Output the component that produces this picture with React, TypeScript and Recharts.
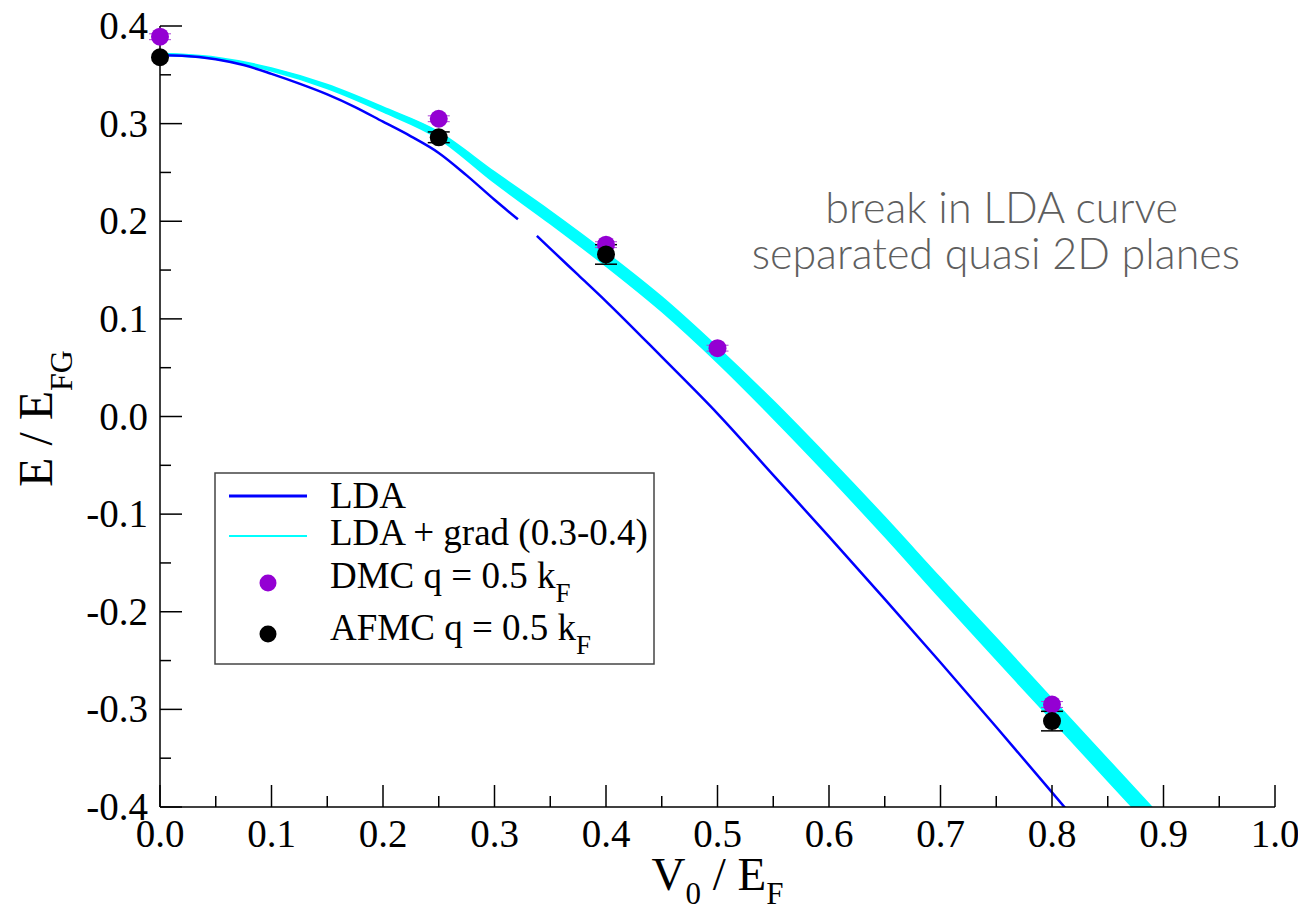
import React from 'react';
import {
  ComposedChart,
  Line,
  Area,
  Scatter,
  ErrorBar,
  XAxis,
  YAxis,
  Label
} from 'recharts';

// LDA curve (the gap near 0.33 is the break between separated quasi 2D planes)
const ldaV0 = [0, 0.02, 0.05, 0.075, 0.1, 0.125, 0.15, 0.175, 0.2, 0.225, 0.25, 0.275, 0.3, 0.321, 0.33, 0.338, 0.35, 0.375, 0.4, 0.45, 0.5, 0.55, 0.6, 0.65, 0.7, 0.75, 0.8, 0.82];
const ldaE = [0.37, 0.3695, 0.366, 0.36, 0.351, 0.341, 0.33, 0.317, 0.302, 0.287, 0.27, 0.247, 0.222, 0.202, null, 0.185, 0.172, 0.145, 0.118, 0.061, 0.003, -0.06, -0.123, -0.187, -0.252, -0.318, -0.385, -0.412];

// LDA + gradient band, gradient coefficient 0.3 .. 0.4
const gradV0 = [0, 0.05, 0.1, 0.15, 0.2, 0.25, 0.3, 0.35, 0.4, 0.45, 0.5, 0.55, 0.6, 0.65, 0.7, 0.75, 0.8, 0.85, 0.9];
const gradHigh = [0.372, 0.368, 0.357, 0.34, 0.317, 0.2915, 0.2505, 0.2105, 0.168, 0.1225, 0.071, 0.016, -0.0425, -0.103, -0.1655, -0.227, -0.289, -0.351, -0.413];
const gradLow = [0.37, 0.366, 0.354, 0.336, 0.312, 0.2845, 0.2395, 0.1975, 0.154, 0.1075, 0.055, -0.002, -0.0615, -0.123, -0.1865, -0.249, -0.311, -0.373, -0.435];

const dmcV0 = [0, 0.25, 0.4, 0.5, 0.8];
const dmcE = [0.389, 0.305, 0.176, 0.07, -0.295];
const dmcErr = [0.003, 0.003, 0.003, 0.003, 0.003];

const afmcV0 = [0, 0.25, 0.4, 0.8];
const afmcE = [0.368, 0.286, 0.166, -0.312];
const afmcErr = [null, 0.0055, 0.01, 0.01];

const xTicks = [0, 0.05, 0.1, 0.15, 0.2, 0.25, 0.3, 0.35, 0.4, 0.45, 0.5, 0.55, 0.6, 0.65, 0.7, 0.75, 0.8, 0.85, 0.9, 0.95, 1.0];
const yTicks = [-0.4, -0.35, -0.3, -0.25, -0.2, -0.15, -0.1, -0.05, 0, 0.05, 0.1, 0.15, 0.2, 0.25, 0.3, 0.35, 0.4];

const ldaData = ldaV0.map((x, i) => ({ x, lda: ldaE[i] }));
const gradData = gradV0.map((x, i) => ({ x, lo: gradLow[i], hi: gradHigh[i] }));
const dmcData = dmcV0.map((x, i) => ({ x, y: dmcE[i], err: dmcErr[i] }));
const afmcData = afmcV0.map((x, i) => ({ x, y: afmcE[i], err: afmcErr[i] }));

const SERIF = '"Liberation Serif", "Times New Roman", serif';
const MAJOR = 22;
const MINOR = 11;

const isMajor = (v: number) => Math.round(v * 20) % 2 === 0;

const BottomTick = (props: any) => {
  const { x, y, payload } = props;
  const major = isMajor(payload.value);
  return (
    <g>
      <line x1={x} x2={x} y1={y} y2={y - (major ? MAJOR : MINOR)} stroke="#000" strokeWidth={1.5} />
      {major && (
        <text x={x} y={y + 40} textAnchor="middle" fontFamily={SERIF} fontSize={39} fill="#000">
          {payload.value.toFixed(1)}
        </text>
      )}
    </g>
  );
};

const TopTick = (props: any) => {
  const { x, y, payload } = props;
  const len = isMajor(payload.value) ? MAJOR : MINOR;
  return <line x1={x} x2={x} y1={y} y2={y + len} stroke="#000" strokeWidth={1.5} />;
};

const LeftTick = (props: any) => {
  const { x, y, payload } = props;
  const major = isMajor(payload.value);
  return (
    <g>
      <line x1={x} x2={x + (major ? MAJOR : MINOR)} y1={y} y2={y} stroke="#000" strokeWidth={1.5} />
      {major && (
        <text x={x - 12} y={y + 13} textAnchor="end" fontFamily={SERIF} fontSize={39} fill="#000">
          {payload.value.toFixed(1)}
        </text>
      )}
    </g>
  );
};

const RightTick = (props: any) => {
  const { x, y, payload } = props;
  const len = isMajor(payload.value) ? MAJOR : MINOR;
  return <line x1={x} x2={x - len} y1={y} y2={y} stroke="#000" strokeWidth={1.5} />;
};

const XTitle = (props: any) => {
  const { x, y, width } = props.viewBox;
  return (
    <text x={x + width / 2} y={y + 83} textAnchor="middle" fontFamily={SERIF} fontSize={47} fill="#000">
      V<tspan fontSize={31} dy={14}>0</tspan>
      <tspan dy={-14}> / E</tspan>
      <tspan fontSize={31} dy={14}>F</tspan>
    </text>
  );
};

const YTitle = (props: any) => {
  const { y, height } = props.viewBox;
  const cx = 44;
  const cy = y + height / 2 + 2;
  return (
    <text
      x={cx}
      y={cy}
      transform={`rotate(-90 ${cx} ${cy})`}
      textAnchor="middle"
      fontFamily={SERIF}
      fontSize={48}
      fill="#000"
    >
      E / E<tspan fontSize={32} dy={20}>FG</tspan>
    </text>
  );
};

const Dot = (color: string) => (p: any) =>
  p.cx == null ? null : <circle cx={p.cx} cy={p.cy} r={9} fill={color} />;

export default function App() {
  return (
    <div style={{ position: 'relative', width: 1290, height: 899 }}>
      <ComposedChart width={1290} height={899} margin={{ top: 18, right: 23, bottom: 0, left: 0 }}>
        <XAxis
          xAxisId="b"
          dataKey="x"
          type="number"
          domain={[0, 1]}
          ticks={xTicks}
          interval={0}
          height={100}
          tickSize={0}
          tickMargin={0}
          tickLine={false}
          axisLine={{ stroke: '#000', strokeWidth: 1.5 }}
          tick={BottomTick}
        >
          <Label content={XTitle} />
        </XAxis>
        <XAxis
          xAxisId="t"
          orientation="top"
          type="number"
          domain={[0, 1]}
          ticks={xTicks}
          interval={0}
          height={0}
          tickSize={0}
          tickMargin={0}
          tickLine={false}
          axisLine={{ stroke: '#000', strokeWidth: 1.5 }}
          tick={TopTick}
        />
        <YAxis
          yAxisId="l"
          type="number"
          domain={[-0.4, 0.4]}
          allowDataOverflow
          ticks={yTicks}
          interval={0}
          width={152}
          tickSize={0}
          tickMargin={0}
          tickLine={false}
          axisLine={{ stroke: '#000', strokeWidth: 1.5 }}
          tick={LeftTick}
        >
          <Label content={YTitle} />
        </YAxis>
        <YAxis
          yAxisId="r"
          orientation="right"
          type="number"
          domain={[-0.4, 0.4]}
          ticks={yTicks}
          interval={0}
          width={0}
          tickSize={0}
          tickMargin={0}
          tickLine={false}
          axisLine={{ stroke: '#000', strokeWidth: 1.5 }}
          tick={RightTick}
        />

        <Line
          xAxisId="b"
          yAxisId="l"
          data={ldaData}
          dataKey="lda"
          type="monotone"
          stroke="#0000ff"
          strokeWidth={2.5}
          dot={false}
          activeDot={false}
          isAnimationActive={false}
        />
        <Area
          xAxisId="b"
          yAxisId="l"
          data={gradData}
          dataKey={(d: any) => [d.lo, d.hi]}
          type="monotone"
          stroke="#00ffff"
          strokeWidth={1.5}
          fill="#00ffff"
          fillOpacity={1}
          dot={false}
          activeDot={false}
          isAnimationActive={false}
        />
        <Scatter
          xAxisId="b"
          yAxisId="r"
          data={dmcData}
          dataKey="y"
          shape={Dot('#9400d3')}
          isAnimationActive={false}
        >
          <ErrorBar dataKey="err" direction="y" width={11} stroke="#b040d8" strokeWidth={1} isAnimationActive={false} />
        </Scatter>
        <Scatter
          xAxisId="b"
          yAxisId="r"
          data={afmcData}
          dataKey="y"
          shape={Dot('#000000')}
          isAnimationActive={false}
        >
          <ErrorBar dataKey="err" direction="y" width={11} stroke="#000" strokeWidth={1.5} isAnimationActive={false} />
        </Scatter>
      </ComposedChart>

      <svg
        width={1290}
        height={899}
        style={{ position: 'absolute', left: 0, top: 0, pointerEvents: 'none' }}
      >
        <g fontFamily="Lato, 'Open Sans', sans-serif" fontWeight={300} fontSize={43} fill="#5e5e5e">
          <text x={1170} y={215} textAnchor="end">break in LDA curve</text>
          <text x={1232} y={261} textAnchor="end">separated quasi 2D planes</text>
        </g>

        <rect x={207} y={465} width={439} height={191} fill="#fff" stroke="#444" strokeWidth={1.5} />
        <line x1={221} x2={299} y1={488} y2={488} stroke="#0000ff" strokeWidth={3} />
        <line x1={221} x2={299} y1={528} y2={528} stroke="#00ffff" strokeWidth={2} />
        <circle cx={260} cy={575} r={8.5} fill="#9400d3" />
        <circle cx={260} cy={626} r={8.5} fill="#000" />
        <g fontFamily={SERIF} fontSize={37} fill="#000">
          <text x={322} y={500}>LDA</text>
          <text x={322} y={537}>LDA + grad (0.3-0.4)</text>
          <text x={322} y={580}>
            DMC q = 0.5 k<tspan fontSize={27} dy={14}>F</tspan>
          </text>
          <text x={322} y={632}>
            AFMC q = 0.5 k<tspan fontSize={27} dy={14}>F</tspan>
          </text>
        </g>
      </svg>
    </div>
  );
}
